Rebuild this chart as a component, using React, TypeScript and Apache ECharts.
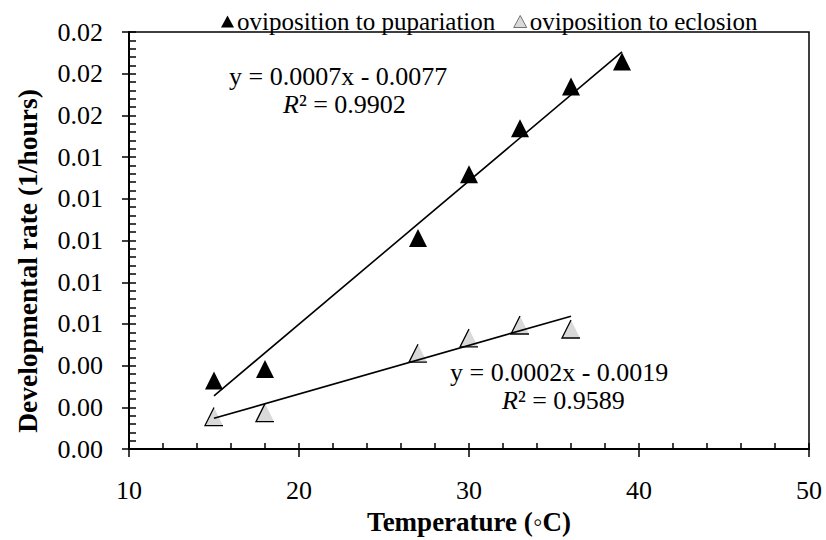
import React, { useEffect, useRef } from "react";
import * as echarts from "echarts";

const tempsPupariation = [15, 18, 27, 30, 33, 36, 39];
const ratePupariation = [0.00329, 0.00384, 0.01012, 0.01318, 0.01538, 0.01739, 0.01858];
const tempsEclosion = [15, 18, 27, 30, 33, 36];
const rateEclosion = [0.00156, 0.00175, 0.0046, 0.00533, 0.00595, 0.00576];

const seriesNames = ["oviposition to pupariation", "oviposition to eclosion"];
const xTitle = "Temperature (◦C)";
const yTitle = "Developmental rate (1/hours)";
const equationPupariation = "y = 0.0007x - 0.0077";
const r2Pupariation = "0.9902";
const equationEclosion = "y = 0.0002x - 0.0019";
const r2Eclosion = "0.9589";

const FONT = "'Liberation Serif', 'Times New Roman', serif";

function trend(xs: number[], ys: number[]): number[][] {
  const n = xs.length;
  const mx = xs.reduce((a, b) => a + b, 0) / n;
  const my = ys.reduce((a, b) => a + b, 0) / n;
  let sxy = 0;
  let sxx = 0;
  for (let i = 0; i < n; i++) {
    sxy += (xs[i] - mx) * (ys[i] - my);
    sxx += (xs[i] - mx) * (xs[i] - mx);
  }
  const b = sxy / sxx;
  const a = my - b * mx;
  const x0 = Math.min(...xs);
  const x1 = Math.max(...xs);
  return [
    [x0, a + b * x0],
    [x1, a + b * x1],
  ];
}

const pairs = (xs: number[], ys: number[]) => xs.map((x, i) => [x, ys[i]]);

export default function App() {
  const ref = useRef<HTMLDivElement>(null);
  useEffect(() => {
    if (!ref.current) return;
    const chart = echarts.init(ref.current, null, { renderer: "svg" });
    const tickLine = { color: "#000", width: 1.5 };
    const option: any = {
      animation: false,
      backgroundColor: "#fff",
      textStyle: { fontFamily: FONT, color: "#000" },
      grid: {
        left: 129,
        right: 17,
        top: 32,
        bottom: 86,
        show: true,
        borderColor: "#000",
        borderWidth: 1.5,
        backgroundColor: "transparent",
      },
      legend: {
        data: [
          { name: seriesNames[0], icon: "triangle" },
          {
            name: seriesNames[1],
            icon: "triangle",
            itemStyle: { color: "#d9d9d9", borderColor: "#555", borderWidth: 0.8 },
          },
        ],
        left: 216,
        top: 4,
        itemWidth: 13,
        itemHeight: 12,
        itemGap: 18,
        textStyle: { fontFamily: FONT, fontSize: 25, color: "#000", padding: [0, 0, 0, -2] },
      },
      xAxis: [
        {
          type: "value",
          min: 10,
          max: 50,
          interval: 10,
          position: "bottom",
          axisLine: { show: true, onZero: false, lineStyle: { color: "#000", width: 2 } },
          axisTick: { show: true, inside: true, length: 6, lineStyle: tickLine },
          minorTick: { show: true, splitNumber: 5, length: 6, lineStyle: tickLine },
          splitLine: { show: false },
          axisLabel: { fontFamily: FONT, fontSize: 26, color: "#000", margin: 28 },
          name: xTitle,
          nameLocation: "middle",
          nameGap: 57,
          nameTextStyle: { fontFamily: FONT, fontSize: 27, fontWeight: "bold", color: "#000" },
        },
        {
          type: "value",
          min: 10,
          max: 50,
          interval: 10,
          position: "bottom",
          axisLine: { show: false },
          axisTick: { show: true, inside: false, length: 8, lineStyle: tickLine },
          splitLine: { show: false },
          axisLabel: { show: false },
        },
      ],
      yAxis: [
        {
          type: "value",
          min: 0,
          max: 0.02,
          interval: 0.002,
          position: "left",
          axisLine: { show: true, onZero: false, lineStyle: { color: "#000", width: 2 } },
          axisTick: { show: true, inside: true, length: 7, lineStyle: tickLine },
          minorTick: { show: true, splitNumber: 5, length: 7, lineStyle: tickLine },
          splitLine: { show: false },
          axisLabel: {
            fontFamily: FONT,
            fontSize: 26,
            color: "#000",
            margin: 26,
            formatter: (v: number) => v.toFixed(2),
          },
        },
        {
          type: "value",
          min: 0,
          max: 0.02,
          interval: 0.002,
          position: "left",
          axisLine: { show: false },
          axisTick: { show: true, inside: false, length: 7, lineStyle: tickLine },
          splitLine: { show: false },
          axisLabel: { show: false },
        },
      ],
      series: [
        {
          name: "trend-pupariation",
          type: "line",
          data: trend(tempsPupariation, ratePupariation),
          symbol: "none",
          lineStyle: { color: "#000", width: 1.6 },
          z: 3,
        },
        {
          name: "trend-eclosion",
          type: "line",
          data: trend(tempsEclosion, rateEclosion),
          symbol: "none",
          lineStyle: { color: "#000", width: 1.6 },
          z: 3,
        },
        {
          name: seriesNames[0],
          type: "scatter",
          data: pairs(tempsPupariation, ratePupariation),
          symbol: "triangle",
          symbolSize: 18,
          itemStyle: { color: "#000", opacity: 1 },
          z: 2,
        },
        {
          name: seriesNames[1],
          type: "scatter",
          data: pairs(tempsEclosion, rateEclosion),
          symbol: "triangle",
          symbolSize: 18,
          itemStyle: { color: "#d9d9d9", opacity: 1 },
          z: 2,
        },
        {
          name: "eclosion-edge",
          type: "scatter",
          data: pairs(tempsEclosion, rateEclosion),
          symbol: "path://M10 0 L0 20 L20 20",
          symbolSize: 18,
          itemStyle: { color: "none", borderColor: "#000", borderWidth: 1.3, opacity: 1 },
          silent: true,
          z: 2,
        },
      ],
      graphic: [
        {
          type: "text",
          x: 27,
          y: 261,
          rotation: Math.PI / 2,
          style: {
            text: yTitle,
            font: `bold 27.5px ${FONT}`,
            fill: "#000",
            align: "center",
            verticalAlign: "middle",
          },
        },
        {
          type: "text",
          left: 341 - 112,
          top: 63,
          style: { text: equationPupariation, font: `26px ${FONT}`, fill: "#000" },
        },
        {
          type: "text",
          left: 283,
          top: 91,
          style: {
            text: `{i|R}² = ${r2Pupariation}`,
            font: `26px ${FONT}`,
            fill: "#000",
            rich: { i: { fontStyle: "italic", fontFamily: FONT, fontSize: 26 } },
          },
        },
        {
          type: "text",
          left: 450,
          top: 359,
          style: { text: equationEclosion, font: `26px ${FONT}`, fill: "#000" },
        },
        {
          type: "text",
          left: 502,
          top: 387,
          style: {
            text: `{i|R}² = ${r2Eclosion}`,
            font: `26px ${FONT}`,
            fill: "#000",
            rich: { i: { fontStyle: "italic", fontFamily: FONT, fontSize: 26 } },
          },
        },
      ],
    };
    chart.setOption(option);
    return () => chart.dispose();
  }, []);
  return (
    <div
      ref={ref}
      style={{ position: "fixed", left: 0, top: 0, width: 826, height: 540, background: "#fff" }}
    />
  );
}
